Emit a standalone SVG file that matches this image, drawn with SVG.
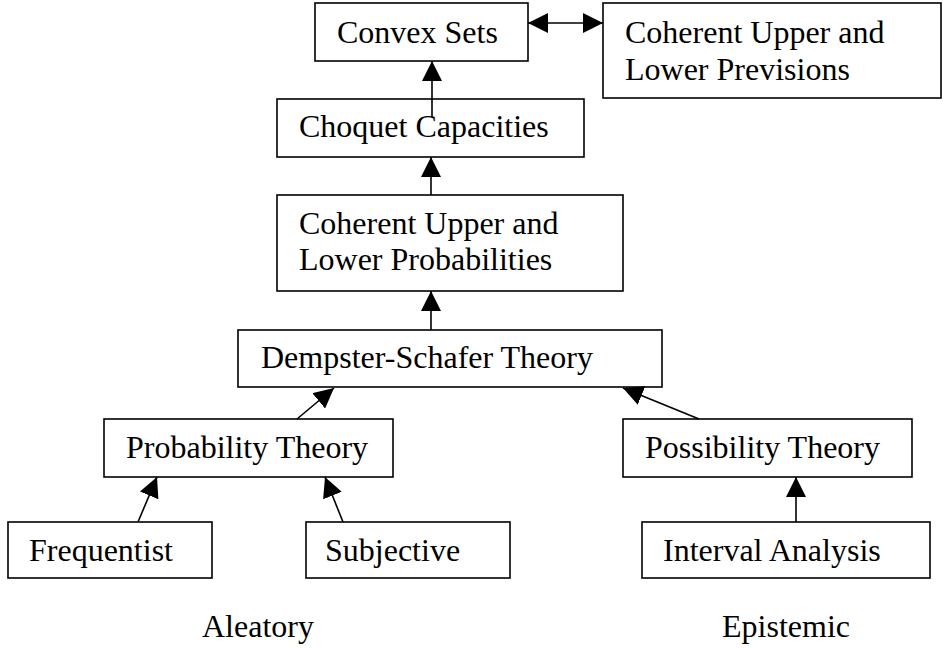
<svg xmlns="http://www.w3.org/2000/svg" width="943" height="648" viewBox="0 0 943 648">
<style>
.box{fill:#fff;stroke:#000;stroke-width:1.6}
.t{font-family:"Liberation Serif","Times New Roman",serif;font-size:32px;fill:#000}
.c{stroke:#000;stroke-width:1.6;fill:none}
</style>
<defs>
<marker id="ah" markerUnits="userSpaceOnUse" markerWidth="20" markerHeight="20" refX="20" refY="10" orient="auto-start-reverse" viewBox="0 0 20 20">
<path d="M0,0 L20,10 L0,20 z" fill="#000"/>
</marker>
</defs>
<rect width="943" height="648" fill="#fff"/>
<g id="convex"><rect class="box" x="315" y="3" width="213" height="58"/><text class="t" x="337" y="43">Convex Sets</text></g>
<g id="previsions"><rect class="box" x="603" y="3" width="338" height="95"/><text class="t" x="625" y="43">Coherent Upper and</text><text class="t" x="625" y="80">Lower Previsions</text></g>
<g id="choquet"><rect class="box" x="277" y="99" width="307" height="58"/><text class="t" x="299" y="137">Choquet Capacities</text></g>
<g id="coherent-prob"><rect class="box" x="277" y="195" width="346" height="96"/><text class="t" x="299" y="234">Coherent Upper and</text><text class="t" x="299" y="270">Lower Probabilities</text></g>
<g id="dempster"><rect class="box" x="238" y="330" width="424" height="57"/><text class="t" x="261" y="368">Dempster-Schafer Theory</text></g>
<g id="probability"><rect class="box" x="104" y="419" width="289" height="58"/><text class="t" x="126" y="458">Probability Theory</text></g>
<g id="possibility"><rect class="box" x="623" y="419" width="289" height="58"/><text class="t" x="645" y="458">Possibility Theory</text></g>
<g id="frequentist"><rect class="box" x="8" y="522" width="204" height="56"/><text class="t" x="29" y="561">Frequentist</text></g>
<g id="subjective"><rect class="box" x="306" y="522" width="204" height="56"/><text class="t" x="325" y="561">Subjective</text></g>
<g id="interval"><rect class="box" x="642" y="522" width="288" height="56"/><text class="t" x="663" y="561">Interval Analysis</text></g>
<g id="aleatory"><text class="t" x="202" y="637">Aleatory</text></g>
<g id="epistemic"><text class="t" x="722" y="637">Epistemic</text></g>
<g id="connectors">
<line class="c" x1="432" y1="117" x2="432" y2="61" marker-end="url(#ah)"/>
<line class="c" x1="431" y1="195" x2="431" y2="157" marker-end="url(#ah)"/>
<line class="c" x1="431" y1="330" x2="431" y2="291" marker-end="url(#ah)"/>
<line class="c" x1="297" y1="419" x2="334" y2="388" marker-end="url(#ah)"/>
<line class="c" x1="699" y1="419" x2="623" y2="388" marker-end="url(#ah)"/>
<line class="c" x1="138" y1="522" x2="157" y2="477" marker-end="url(#ah)"/>
<line class="c" x1="343" y1="522" x2="325" y2="477" marker-end="url(#ah)"/>
<line class="c" x1="796" y1="522" x2="796" y2="477" marker-end="url(#ah)"/>
<line class="c" x1="528" y1="23" x2="603" y2="23" marker-start="url(#ah)" marker-end="url(#ah)"/>
</g>
</svg>
